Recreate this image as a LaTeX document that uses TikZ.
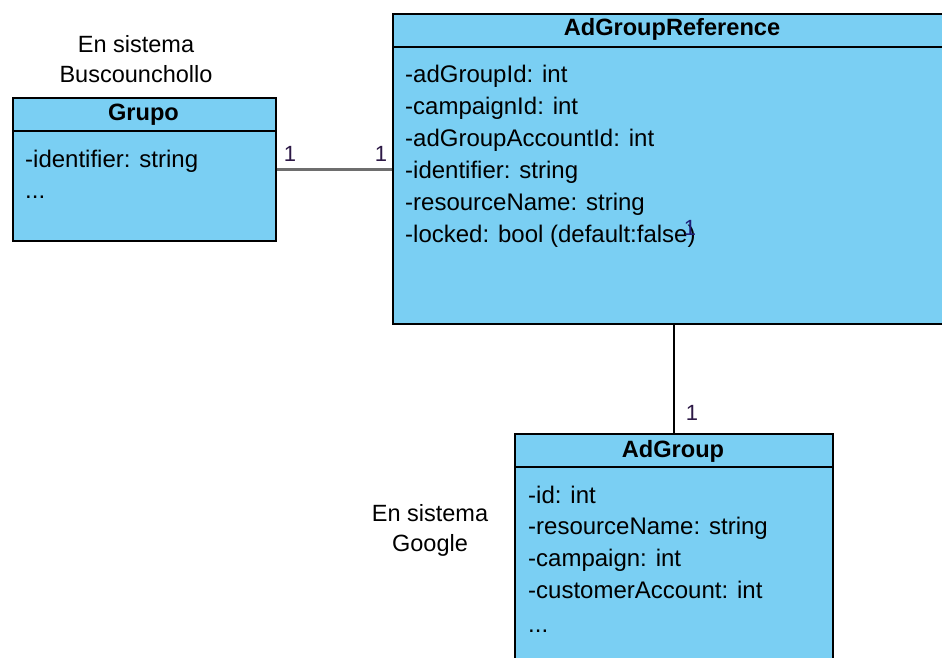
\documentclass[tikz,border=0pt]{standalone}
\usepackage{fontspec}
\setmainfont{Liberation Sans}
\definecolor{umlfill}{RGB}{122,207,243}
\definecolor{multc}{RGB}{45,25,70}
\definecolor{strayc}{RGB}{30,30,120}
\definecolor{assocgray}{RGB}{110,110,110}
\tikzset{
  classbox/.style={draw=black, line width=1.6pt, fill=umlfill, rectangle, inner sep=0pt, anchor=north west},
  classtitle/.style={anchor=base, font=\fontsize{23.6}{28}\selectfont\bfseries, inner sep=0pt},
  attr/.style={anchor=base west, font=\fontsize{24}{30}\selectfont, inner sep=0pt},
  note/.style={anchor=base, font=\fontsize{23.5}{30}\selectfont, inner sep=0pt},
  mult/.style={anchor=base, font=\fontsize{22}{26}\selectfont, inner sep=0pt, text=multc},
  sepline/.style={line width=1.6pt, draw=black},
}
\begin{document}
\begin{tikzpicture}[x=1pt,y=-1pt]
\useasboundingbox (0,0) rectangle (942,657);
\clip (0,0) rectangle (942,657);
\fill[white] (0,0) rectangle (942,657);

% Grupo
\node[classbox, minimum width=263pt, minimum height=143pt] (grupo) at (12,97) {};
\draw[sepline] (12,131) -- (275,131);
\node[classtitle] (grupoT) at (143.5,120) {Grupo};
\node[attr] (g1) at (25,167) {-identifier: string};
\node[attr] (g2) at (25,198) {...};

% AdGroupReference
\node[classbox, minimum width=560pt, minimum height=310pt] (ref) at (392,13) {};
\draw[sepline] (392,47) -- (952,47);
\node[classtitle] (refT) at (672,35) {AdGroupReference};
\node[attr] (r1) at (405,82) {-adGroupId: int};
\node[attr] (r2) at (405,114) {-campaignId: int};
\node[attr] (r3) at (405,146) {-adGroupAccountId: int};
\node[attr] (r4) at (405,178) {-identifier: string};
\node[attr] (r5) at (405,210) {-resourceName: string};
\node[attr] (r6) at (405,242) {-locked: bool (default:false)};

% AdGroup
\node[classbox, minimum width=318pt, minimum height=260pt] (adg) at (514,433) {};
\draw[sepline] (514,467) -- (832,467);
\node[classtitle] (adgT) at (673,457) {AdGroup};
\node[attr] (a1) at (528,503) {-id: int};
\node[attr] (a2) at (528,534) {-resourceName: string};
\node[attr] (a3) at (528,566) {-campaign: int};
\node[attr] (a4) at (528,598) {-customerAccount: int};
\node[attr] (a5) at (528,632) {...};

% notes
\node[note] (n1) at (136,52) {En sistema};
\node[note] (n2) at (136,82) {Buscounchollo};
\node[note] (n3) at (430,521) {En sistema};
\node[note] (n4) at (430,551) {Google};

% connectors
\draw[assocgray, line width=2.6pt] (grupo.east) -- (ref.west |- grupo.east);
\draw[black, line width=1.6pt] (adg.north) -- (adg.north |- ref.south);

% multiplicities
\node[mult] (m1) at (290,161) {1};
\node[mult] (m2) at (381,161) {1};
\node[mult] (m3) at (692,420) {1};
\node[mult, text=strayc] (m4) at (690,235) {1};
\end{tikzpicture}
\end{document}
